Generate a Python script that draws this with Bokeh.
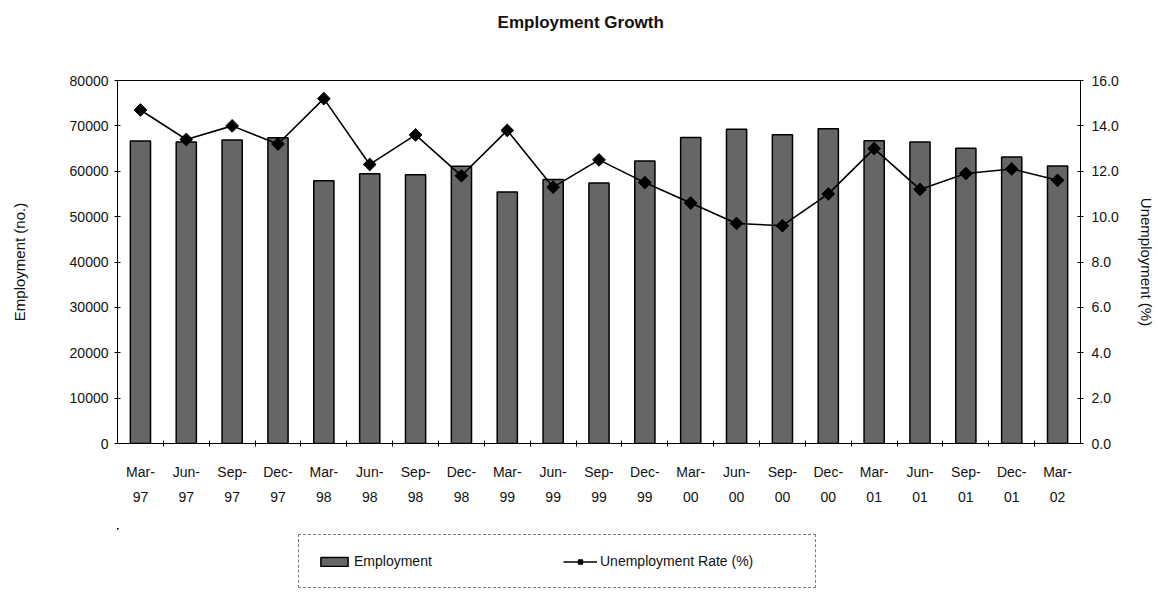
import math
from bokeh.plotting import figure
from bokeh.layouts import column
from bokeh.models import (Range1d, LinearAxis, FixedTicker, PrintfTickFormatter,
                          Legend, LegendItem, ColumnDataSource, Label)
from bokeh.embed import file_html
from bokeh.resources import INLINE

quarters = ["Mar-97", "Jun-97", "Sep-97", "Dec-97", "Mar-98", "Jun-98", "Sep-98",
            "Dec-98", "Mar-99", "Jun-99", "Sep-99", "Dec-99", "Mar-00", "Jun-00",
            "Sep-00", "Dec-00", "Mar-01", "Jun-01", "Sep-01", "Dec-01", "Mar-02"]
employment = [66650, 66430, 66870, 67400, 57900, 59470, 59250, 61120, 55450, 58190,
              57390, 62250, 67420, 69260, 68040, 69370, 66740, 66450, 65060, 63140, 61170]
unemployment = [14.7, 13.4, 14.0, 13.2, 15.2, 12.3, 13.6, 11.8, 13.8, 11.3,
                12.5, 11.5, 10.6, 9.7, 9.6, 11.0, 13.0, 11.2, 11.9, 12.1, 11.6]
left_ticks = [0, 10000, 20000, 30000, 40000, 50000, 60000, 70000, 80000]
right_ticks = [0, 2, 4, 6, 8, 10, 12, 14, 16]

FONT = "Liberation Sans"
TXT = "#111111"
W = 1158
BAR = dict(fill_color="#666666", line_color="black", line_width=1.5)
LINE = dict(line_color="black", line_width=1.6)
MARK = dict(marker="square", angle=math.pi / 4, size=9, fill_color="black",
            line_color="black")

pos = list(range(len(quarters)))
src = ColumnDataSource(dict(x=pos, q=quarters, emp=employment, ur=unemployment))

# ---- title strip
tf = figure(width=W, height=40, x_range=Range1d(0, 1), y_range=Range1d(0, 1),
            output_backend="svg", toolbar_location=None, min_border=0)
tf.axis.visible = False
tf.grid.visible = False
tf.outline_line_color = None
tf.add_layout(Label(x=0.481, y=0.45, text="Employment Growth", text_align="center",
                    text_baseline="middle", text_font=FONT, text_font_size="17px",
                    text_font_style="bold", text_color=TXT))

# ---- main chart
p = figure(x_range=Range1d(-0.5, len(quarters) - 0.5), y_range=Range1d(0, 80000),
           width=W, height=488, output_backend="svg", toolbar_location=None,
           min_border_left=117, min_border_right=78, min_border_top=40,
           min_border_bottom=85)
p.extra_y_ranges = {"ur": Range1d(0, 16)}

p.vbar(x="x", top="emp", width=0.44, source=src, **BAR)
p.line(x="x", y="ur", y_range_name="ur", source=src, **LINE)
p.scatter(x="x", y="ur", y_range_name="ur", source=src, **MARK)

p.xgrid.visible = False
p.ygrid.visible = False
p.outline_line_color = "black"
p.outline_line_width = 1
p.background_fill_color = "white"
p.border_fill_color = "white"

ya = p.yaxis[0]
ya.ticker = FixedTicker(ticks=left_ticks)
ya.axis_label = "Employment (no.)"
ya.axis_label_text_font = FONT
ya.axis_label_text_font_size = "15px"
ya.axis_label_text_font_style = "normal"
ya.axis_label_text_color = TXT
ya.axis_label_standoff = 39
ya.major_label_text_font = FONT
ya.major_label_text_font_size = "14px"
ya.major_label_text_color = TXT
ya.major_tick_in = 3
ya.major_tick_out = 3
ya.minor_tick_line_color = None
ya.axis_line_color = "black"
ya.major_label_standoff = 6

ra = LinearAxis(y_range_name="ur", ticker=FixedTicker(ticks=right_ticks),
                formatter=PrintfTickFormatter(format="%.1f"))
ra.axis_label = "Unemployment (%)"
ra.axis_label_text_font = FONT
ra.axis_label_text_font_size = "15px"
ra.axis_label_text_font_style = "normal"
ra.axis_label_text_color = TXT
ra.axis_label_standoff = 16
ra.major_label_text_font = FONT
ra.major_label_text_font_size = "14px"
ra.major_label_text_color = TXT
ra.major_tick_in = 3
ra.major_tick_out = 3
ra.minor_tick_line_color = None
ra.major_label_standoff = 8
p.add_layout(ra, "right")

xa = p.xaxis[0]
xa.ticker = FixedTicker(ticks=pos, minor_ticks=[i + 0.5 for i in pos[:-1]])
xa.major_label_overrides = {i: q.replace("-", "-\n") for i, q in zip(pos, quarters)}
xa.major_label_text_font = FONT
xa.major_label_text_font_size = "14px"
xa.major_label_text_color = TXT
xa.major_label_text_line_height = 1.6
xa.major_tick_line_color = None
xa.minor_tick_line_color = "black"
xa.minor_tick_in = 3
xa.minor_tick_out = 3
xa.major_label_standoff = 14
xa.axis_line_color = "black"

# ---- legend strip (series renderers are mapped outside its visible area)
lf = figure(width=W, height=63, x_range=Range1d(100, 101),
            y_range=Range1d(-200000, -100000), output_backend="svg",
            toolbar_location=None, min_border=0)
lf.extra_y_ranges = {"ur": Range1d(-40, -20)}
lf.axis.visible = False
lf.grid.visible = False
lf.outline_line_color = None
lb = lf.vbar(x="x", top="emp", width=0.44, source=src, **BAR)
ll = lf.line(x="x", y="ur", y_range_name="ur", source=src, **LINE)
lm = lf.scatter(x="x", y="ur", y_range_name="ur", source=src, **MARK)

legend = Legend(items=[LegendItem(label="Employment", renderers=[lb]),
                       LegendItem(label="Unemployment Rate (%)", renderers=[ll, lm])],
                orientation="horizontal", location=(181, 3), padding=18, spacing=12,
                glyph_width=34, glyph_height=11, label_width=197, label_standoff=3,
                border_line_color="black", border_line_dash="dotted",
                border_line_width=1, background_fill_alpha=0, margin=0,
                label_text_font=FONT, label_text_font_size="14px",
                label_text_color=TXT)
lf.add_layout(legend)

layout = column(tf, p, lf, spacing=0)
open("out.html", "w").write(file_html(layout, INLINE))
